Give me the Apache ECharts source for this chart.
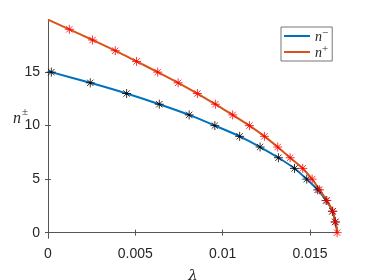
<!DOCTYPE html>
<html>
<head>
<meta charset="utf-8">
<script src="https://cdn.jsdelivr.net/npm/echarts@6/dist/echarts.min.js"></script>
<style>html,body{margin:0;padding:0;background:#fff}#c{width:374px;height:280px}</style>
</head>
<body>
<div id="c"></div>
<script>
// n values for markers
var nMinus = [15,14,13,12,11,10,9,8,7,6,5,4,3,2,1];
var lamMinus = [0.00019,0.00242,0.00450,0.00637,0.00808,0.00955,0.01097,0.01214,0.01319,0.01411,0.01481,0.01544,0.01592,0.01628,0.01644];
var nPlus = [19,18,17,16,15,14,13,12,11,10,9,8,7,6,5,4,3,2,1,0];
var lamPlus = [0.00122,0.00255,0.00385,0.00507,0.00628,0.00745,0.00855,0.00958,0.01057,0.01153,0.01239,0.01315,0.01386,0.01458,0.01512,0.01554,0.01596,0.01630,0.01645,0.01655];
// continuous curves
var curveMinusLam = [0,0.00019,0.00242,0.00450,0.00637,0.00808,0.00955,0.01097,0.01214,0.01319,0.01411,0.01481,0.01544,0.01592,0.01628,0.01644,0.01654];
var curveMinusN = [15.08,15,14,13,12,11,10,9,8,7,6,5,4,3,2,1,0.4];
var curvePlusLam = [0,0.00122,0.00255,0.00385,0.00507,0.00628,0.00745,0.00855,0.00958,0.01057,0.01153,0.01239,0.01315,0.01386,0.01458,0.01512,0.01554,0.01596,0.01630,0.01645,0.01655];
var curvePlusN = [19.9,19,18,17,16,15,14,13,12,11,10,9,8,7,6,5,4,3,2,1,0];
var xTicks = [0,0.005,0.01,0.015];
var yTicks = [0,5,10,15];

function zip(a,b){return a.map(function(v,i){return [v,b[i]];});}
var star = 'path://M0,-10L0,10M-10,0L10,0M-7.07,-7.07L7.07,7.07M-7.07,7.07L7.07,-7.07';
var axCol = '#555555';
var txtCol = '#262626';
var chart = echarts.init(document.getElementById('c'));
var baseX = {type:'value', min:0, max:0.0166, splitLine:{show:false},
  axisLine:{lineStyle:{color:axCol,width:1}},
  axisTick:{inside:true,length:3,customValues:xTicks,lineStyle:{color:axCol}},
  axisLabel:{customValues:xTicks,color:txtCol,fontSize:14,fontFamily:'Liberation Sans',margin:9,
    formatter:function(v){return String(v);}}};
var baseY = {type:'value', min:-0.5, max:19.87, splitLine:{show:false},
  axisLine:{show:true,lineStyle:{color:axCol,width:1}},
  axisTick:{show:true,inside:true,length:3,customValues:yTicks,lineStyle:{color:axCol}},
  axisLabel:{customValues:yTicks,color:txtCol,fontSize:14,fontFamily:'Liberation Sans',margin:8}};
chart.setOption({
  animation:false,
  grid:{left:48,right:36,top:20,bottom:42,outerBoundsMode:'none',containLabel:false},
  xAxis:[
    Object.assign({}, baseX, {position:'bottom', name:'λ', nameLocation:'middle', nameGap:31,
      nameTextStyle:{fontSize:15,fontFamily:'DejaVu Serif',fontStyle:'italic',color:txtCol}}),
    Object.assign({}, baseX, {position:'top', axisLabel:{show:false}})
  ],
  yAxis:[
    Object.assign({}, baseY, {position:'left'}),
    Object.assign({}, baseY, {position:'right', axisLabel:{show:false}})
  ],
  legend:{
    left:281, top:27, orient:'vertical', itemWidth:26, itemHeight:2, itemGap:0,
    padding:[1,4,1,3], borderColor:'#777', borderWidth:1, backgroundColor:'#fff',
    data:[{name:'n-',icon:'rect'},{name:'n+',icon:'rect'}],
    formatter:function(name){return name==='n-'?'{n|n}{s|−}':'{n|n}{s|+}';},
    textStyle:{color:txtCol, rich:{
      n:{fontSize:14,fontFamily:'Liberation Serif',fontStyle:'italic',lineHeight:16,verticalAlign:'bottom'},
      s:{fontSize:11,fontFamily:'Liberation Serif',lineHeight:10,verticalAlign:'top'}}}
  },
  graphic:[
    {type:'text', left:13, top:111, style:{text:'n', font:'italic 16px "Liberation Serif"', fill:txtCol}},
    {type:'text', left:22, top:107, style:{text:'±', font:'11px "Liberation Serif"', fill:txtCol}}
  ],
  series:[
    {name:'n-', type:'line', data:zip(curveMinusLam,curveMinusN), smooth:0.3, symbol:'none',
      lineStyle:{color:'#0072BD',width:2}, itemStyle:{color:'#0072BD'}, z:2},
    {name:'n+', type:'line', data:zip(curvePlusLam,curvePlusN), smooth:0.3, symbol:'none',
      lineStyle:{color:'#D95319',width:2}, itemStyle:{color:'#D95319'}, z:3},
    {name:'mk-', type:'scatter', data:zip(lamMinus,nMinus), symbol:star, symbolSize:9,
      itemStyle:{color:'rgba(0,0,0,0)', borderColor:'#000', borderWidth:1}, z:4},
    {name:'mk+', type:'scatter', data:zip(lamPlus,nPlus), symbol:star, symbolSize:9,
      itemStyle:{color:'rgba(0,0,0,0)', borderColor:'#ff0000', borderWidth:1}, z:5}
  ]
});
</script>
</body>
</html>
